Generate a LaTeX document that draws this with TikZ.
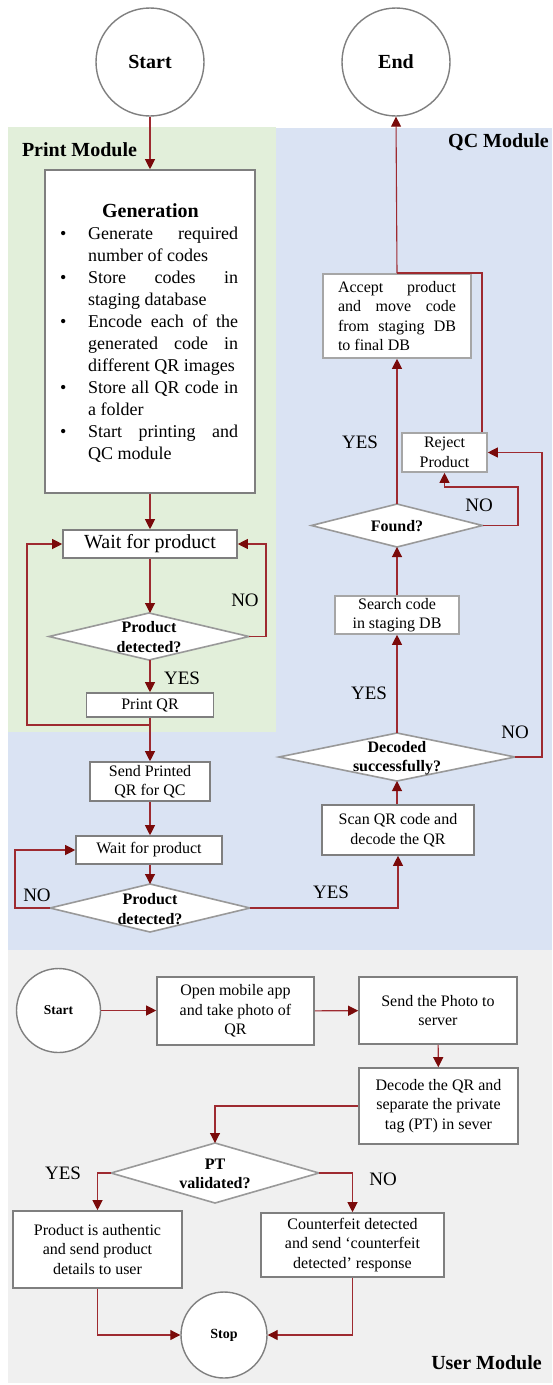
\documentclass[tikz,border=0pt]{standalone}
\usepackage{fontspec}
\setmainfont{Liberation Serif}
\usetikzlibrary{arrows.meta,shapes.geometric}
\definecolor{qcblue}{HTML}{DAE3F3}
\definecolor{prgreen}{HTML}{E2EFDA}
\definecolor{usgray}{HTML}{F0F0F0}
\definecolor{lnred}{HTML}{9E2A30}
\definecolor{tipred}{HTML}{7A0A0A}
\definecolor{bdark}{HTML}{7F7F7F}
\definecolor{blight}{HTML}{A6A6A6}
\definecolor{dgray}{HTML}{999999}
\begin{document}
\begin{tikzpicture}[x=1pt,y=-1pt,
  conn/.style={draw=lnred, line width=1.1pt},
  arr/.style={conn, -{Triangle[length=10pt,width=10pt,color=tipred]}},
  box/.style={draw=bdark, line width=1.6pt, fill=white, inner sep=0pt, align=center, font=\fontsize{16}{19.5}\selectfont},
  lbox/.style={box, draw=blight},
  circ/.style={circle, draw=bdark, line width=1.4pt, fill=white, inner sep=0pt, font=\bfseries\fontsize{20}{24}\selectfont},
  dia/.style={diamond, draw=dgray, line width=1.6pt, fill=white, inner sep=0pt, outer sep=0pt},
  dtxt/.style={align=center, inner sep=0pt, font=\bfseries\fontsize{16}{19.5}\selectfont},
  lab/.style={inner sep=0pt, font=\fontsize{19}{22}\selectfont},
  modlab/.style={inner sep=0pt, font=\bfseries\fontsize{20}{24}\selectfont}]
\useasboundingbox (0,0) rectangle (552,1385);
\fill[white] (0,0) rectangle (552,1385);
% backgrounds
\fill[qcblue] (8,128) rectangle (552,950);
\fill[prgreen] (8,127) rectangle (276,732);
\fill[usgray] (8,950) rectangle (552,1383);
\node[modlab] (lprint) at (79.5,150) {Print Module};
\node[modlab, anchor=east] (lqc) at (549,142) {QC Module};
\node[modlab, anchor=east] (luser) at (542,1363) {User Module};

% ---------- top part ----------
\node[circ, minimum size=108pt] (start) at (150,62) {Start};
\node[circ, minimum size=108pt] (endc) at (396,62) {End};

\node[box, minimum width=210pt, minimum height=323pt] (gen) at (150,331.5) {};
\node[inner sep=0pt, font=\bfseries\fontsize{20}{24}\selectfont] (gentitle) at (150.5,211) {Generation};
\node[anchor=north west, inner sep=0pt, align=left, font=\fontsize{18}{22}\selectfont] (genlist) at (58,227) {%
\makebox[30pt][l]{\hspace{2pt}\textbullet}\makebox[150pt][s]{Generate required}\\
\hspace*{30pt}number of codes\\
\makebox[30pt][l]{\hspace{2pt}\textbullet}\makebox[150pt][s]{Store codes in}\\
\hspace*{30pt}staging database\\
\makebox[30pt][l]{\hspace{2pt}\textbullet}\makebox[150pt][s]{Encode each of the}\\
\hspace*{30pt}\makebox[150pt][s]{generated code in}\\
\hspace*{30pt}different QR images\\
\makebox[30pt][l]{\hspace{2pt}\textbullet}\makebox[150pt][s]{Store all QR code in}\\
\hspace*{30pt}a folder\\
\makebox[30pt][l]{\hspace{2pt}\textbullet}\makebox[150pt][s]{Start printing and}\\
\hspace*{30pt}QC module};

\node[box, minimum width=174pt, minimum height=28pt, font=\fontsize{20}{24}\selectfont] (wait1) at (150,544) {Wait for product};
\node[dia, minimum width=200pt, minimum height=47pt] (det1) at (149,636.5) {};
\node[dtxt] (det1t) at (149,637) {Product\\detected?};
\node[box, minimum width=127pt, minimum height=24pt] (print) at (150,705) {Print QR};
\node[box, minimum width=120pt, minimum height=39pt] (sendqc) at (150,781.5) {Send Printed\\QR for QC};
\node[box, minimum width=146pt, minimum height=28pt] (wait2) at (149,850) {Wait for product};
\node[dia, minimum width=200pt, minimum height=48pt] (det2) at (150,908) {};
\node[dtxt] (det2t) at (150,909) {Product\\detected?};

\node[box, minimum width=152pt, minimum height=50pt] (scan) at (398,830) {Scan QR code and\\decode the QR};
\node[dia, minimum width=236pt, minimum height=48pt] (decd) at (397,757) {};
\node[dtxt] (decdt) at (397,758) {Decoded\\successfully?};
\node[lbox, minimum width=124pt, minimum height=38pt] (search) at (397,615) {Search code\\in staging DB};
\node[dia, minimum width=171pt, minimum height=43pt] (found) at (397,525.5) {};
\node[dtxt] (foundt) at (397,526) {Found?};
\node[lbox, minimum width=85pt, minimum height=39pt] (reject) at (444.5,452.5) {Reject\\Product};
\node[lbox, minimum width=148pt, minimum height=84pt] (accept) at (397,316) {%
\makebox[118pt][s]{Accept product}\\\makebox[118pt][s]{and move code}\\\makebox[118pt][s]{from staging DB}\\\makebox[118pt][l]{to final DB}};

% connectors top
\draw[arr] (start) -- (gen);
\draw[arr] (gen) -- (wait1);
\draw[arr] (wait1) -- (det1.north -| wait1.south);
\coordinate (n1a) at (266,636.5);
\draw[arr] (det1.east) -- (n1a) |- (wait1.east);
\node[lab] (no1) at (245,600) {NO};
\draw[arr] (det1.south -| print.north) -- (print.north);
\node[lab] (yes1) at (182,678) {YES};
\coordinate (pj) at (150,725);
\coordinate (pl) at (27,725);
\draw[arr] (print) -- (sendqc);
\draw[arr] (pj) -- (pl) |- (wait1.west);
\draw[arr] (sendqc) -- (wait2.north -| sendqc.south);
\draw[arr] (wait2.south -| det2.north) -- (det2.north);
\coordinate (n2a) at (15,908);
\draw[arr] (det2.west) -- (n2a) |- (wait2.west);
\node[lab] (no2) at (37,895) {NO};
\draw[arr] (det2.east) -| (scan.south);
\node[lab] (yes2) at (331,892) {YES};
\draw[arr] (scan.north -| decd.south) -- (decd.south);
\draw[arr] (decd) -- (search);
\node[lab] (yes3) at (369,693) {YES};
\coordinate (n3a) at (542,757);
\draw[arr] (decd.east) -- (n3a) |- (reject.east);
\node[lab] (no3) at (515,732) {NO};
\draw[arr] (search) -- (found);
\draw[arr] (found) -- (accept);
\node[lab] (yes4) at (360,442) {YES};
\coordinate (n4a) at (518,525.5);
\coordinate (n4b) at (518,487);
\draw[arr] (found.east) -- (n4a) -- (n4b) -| (reject.south);
\node[lab] (no4) at (479,505) {NO};
\coordinate (rj) at (482,273);
\coordinate (aj) at (397,273);
\draw[conn] (reject.north -| rj) -- (rj) -- (aj);
\draw[arr] (accept.north) -- (endc.south);

% ---------- user module ----------
\node[circ, minimum size=84pt, font=\bfseries\fontsize{13.5}{16}\selectfont] (ustart) at (58.5,1010.5) {Start};
\node[box, minimum width=157pt, minimum height=68pt] (open) at (235.5,1011) {Open mobile app\\and take photo of\\QR};
\node[box, minimum width=158pt, minimum height=67pt] (sendp) at (438,1010.5) {Send the Photo to\\server};
\node[box, minimum width=159pt, minimum height=76pt] (decode) at (438.5,1106) {Decode the QR and\\separate the private\\tag (PT) in sever};
\node[dia, minimum width=208pt, minimum height=60pt] (pt) at (215,1173) {};
\node[dtxt] (ptt) at (215,1174) {PT\\validated?};
\node[box, minimum width=169pt, minimum height=77pt] (auth) at (97.5,1249.5) {Product is authentic\\and send product\\details to user};
\node[box, minimum width=183pt, minimum height=64pt] (cf) at (352.5,1245) {Counterfeit detected\\and send ‘counterfeit\\detected’ response};
\node[circ, minimum size=86pt, font=\bfseries\fontsize{14}{17}\selectfont] (stop) at (224,1335) {Stop};

\draw[arr] (ustart) -- (open.west |- ustart.east);
\draw[arr] (open) -- (sendp);
\draw[arr] (sendp) -- (decode);
\draw[arr] (decode.west) -| (pt.north);
\draw[arr] (pt.west) -| (auth.north);
\node[lab] (yes5) at (63,1173) {YES};
\draw[arr] (pt.east) -| (cf.north);
\node[lab] (no5) at (383,1179) {NO};
\draw[arr] (auth.south) |- (stop.west);
\draw[arr] (cf.south) |- (stop.east);
\end{tikzpicture}
\end{document}
